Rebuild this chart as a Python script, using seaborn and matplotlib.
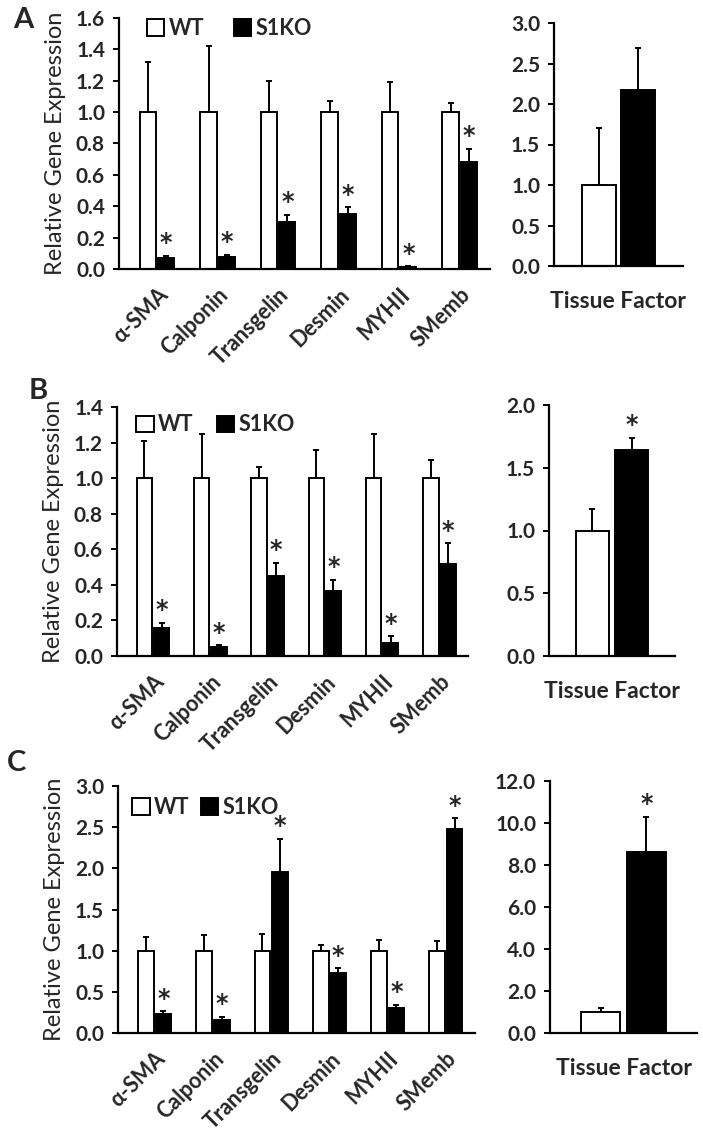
import numpy as np
import pandas as pd
import matplotlib
matplotlib.use("Agg")
import matplotlib.pyplot as plt
import seaborn as sns

sns.set_style("ticks")
plt.rcParams['font.family'] = ['Lato', 'DejaVu Sans']

genes = ['α-SMA', 'Calponin', 'Transgelin', 'Desmin', 'MYHII', 'SMemb']
groups = ['WT', 'S1KO']

# panel A
a_wt = [1.0, 1.0, 1.0, 1.0, 1.0, 1.0]
a_wt_err = [0.32, 0.42, 0.20, 0.07, 0.19, 0.06]
a_ko = [0.07, 0.077, 0.297, 0.348, 0.01, 0.68]
a_ko_err = [0.015, 0.015, 0.05, 0.045, 0.008, 0.085]
a_ko_star = [True, True, True, True, True, True]
a_tf = [1.0, 2.17]
a_tf_err = [0.70, 0.52]
a_tf_star = [False, False]

# panel B
b_wt = [1.0, 1.0, 1.0, 1.0, 1.0, 1.0]
b_wt_err = [0.21, 0.25, 0.063, 0.156, 0.25, 0.10]
b_ko = [0.159, 0.05, 0.448, 0.367, 0.073, 0.515]
b_ko_err = [0.028, 0.01, 0.075, 0.062, 0.039, 0.118]
b_ko_star = [True, True, True, True, True, True]
b_tf = [1.0, 1.638]
b_tf_err = [0.168, 0.10]
b_tf_star = [False, True]

# panel C
c_wt = [1.0, 1.0, 1.0, 1.0, 1.0, 1.0]
c_wt_err = [0.16, 0.185, 0.20, 0.063, 0.128, 0.112]
c_ko = [0.226, 0.162, 1.957, 0.728, 0.303, 2.483]
c_ko_err = [0.037, 0.036, 0.40, 0.056, 0.041, 0.125]
c_ko_star = [True, True, True, True, True, True]
c_tf = [1.0, 8.61]
c_tf_err = [0.2, 1.68]
c_tf_star = [False, True]

W, H = 703, 1136
fig = plt.figure(figsize=(W / 100, H / 100), dpi=100)


def box(x0, x1, y0, y1):
    return [x0 / W, 1 - y1 / H, (x1 - x0) / W, (y1 - y0) / H]


def style_axes(ax, ymax, step):
    sns.despine(ax=ax)
    for s in ['left', 'bottom']:
        ax.spines[s].set_linewidth(1.6)
        ax.spines[s].set_color('black')
    ax.set_ylim(0, ymax)
    ticks = np.arange(0, ymax + step / 2, step)
    ax.set_yticks(ticks)
    ax.set_yticklabels(['%.1f' % t for t in ticks], fontsize=15, fontweight='bold')
    ax.tick_params(axis='y', length=4, width=1.4, color='black', pad=6)
    ax.tick_params(axis='x', length=0)
    ax.set_xlabel('')


def draw_bars(ax, cats, wt, wt_err, ko, ko_err, stars, width, gap):
    df = pd.DataFrame({
        'cat': list(cats) * 2,
        'group': ['WT'] * len(cats) + ['S1KO'] * len(cats),
        'value': list(wt) + list(ko),
    })
    sns.barplot(data=df, x='cat', y='value', hue='group', hue_order=groups,
                palette=['white', 'black'], edgecolor='black', linewidth=1.4,
                width=width, gap=gap, errorbar=None, legend=False, ax=ax)
    bars = list(ax.containers)
    errs = [wt_err, ko_err]
    vals = [wt, ko]
    for k, cont in enumerate(bars):
        xs = [p.get_x() + p.get_width() / 2 for p in cont.patches]
        ax.errorbar(xs, vals[k], yerr=[np.zeros(len(xs)), errs[k]], fmt='none',
                    ecolor='black', elinewidth=1.4, capsize=2.5, capthick=1.4, zorder=1)
        if k == 1:
            for x, v, e, s in zip(xs, vals[k], errs[k], stars):
                if s:
                    ax.annotate('*', (x, v + e), xytext=(0, 4), textcoords='offset points',
                                ha='center', va='baseline', fontsize=17, fontweight='bold',
                                family='DejaVu Sans')
    return bars


def left_panel(rect, wt, wt_err, ko, ko_err, stars, ymax, step, leg_anchor, colsp,
               letter, letter_xy):
    ax = fig.add_axes(box(*rect))
    bars = draw_bars(ax, genes, wt, wt_err, ko, ko_err, stars, 0.6, 0.1)
    style_axes(ax, ymax, step)
    ax.set_xlim(-0.63, 5.5)
    ax.set_xticks(range(len(genes)))
    ax.set_xticklabels(genes, rotation=45, ha='right', rotation_mode='anchor',
                       fontsize=15.5, fontweight='bold')
    ax.tick_params(axis='x', pad=11)
    ax.set_ylabel('Relative Gene Expression', fontsize=17, labelpad=7)
    ax.legend(bars, groups, loc='upper left', bbox_to_anchor=leg_anchor,
              ncol=2, frameon=False, handlelength=0.8, handleheight=0.8,
              handletextpad=0.2, columnspacing=colsp, borderaxespad=0,
              borderpad=0, prop={'size': 15.5, 'weight': 'bold'})
    fig.text(letter_xy[0] / W, 1 - letter_xy[1] / H, letter, fontsize=21,
             fontweight='bold', ha='center', va='center')
    return ax


def right_panel(rect, tf, tf_err, stars, ymax, step):
    ax = fig.add_axes(box(*rect))
    draw_bars(ax, ['Tissue Factor'], [tf[0]], [tf_err[0]], [tf[1]], [tf_err[1]],
              [stars[1]], 0.62, 0.15)
    style_axes(ax, ymax, step)
    ax.set_xlim(-0.5, 0.5)
    ax.set_xticks([0])
    ax.set_xticklabels(['Tissue Factor'], fontsize=16.5, fontweight='bold')
    ax.tick_params(axis='x', pad=18)
    ax.set_ylabel('')
    return ax


left_panel((119, 490, 18, 269), a_wt, a_wt_err, a_ko, a_ko_err, a_ko_star, 1.6, 0.2,
           (0.075, 1.0), 1.4, 'A', (23, 20))
right_panel((554, 683, 23, 266), a_tf, a_tf_err, a_tf_star, 3.0, 0.5)

left_panel((117, 468, 407, 656), b_wt, b_wt_err, b_ko, b_ko_err, b_ko_star, 1.4, 0.2,
           (0.055, 0.97), 1.1, 'B', (38, 391))
right_panel((549, 675, 405, 656), b_tf, b_tf_err, b_tf_star, 2.0, 0.5)

left_panel((118, 475, 786, 1033), c_wt, c_wt_err, c_ko, c_ko_err, c_ko_star, 3.0, 0.5,
           (0.04, 0.955), 0.55, 'C', (16, 763))
right_panel((550, 697, 781, 1033), c_tf, c_tf_err, c_tf_star, 12.0, 2.0)

fig.savefig('out.png', dpi=100)
